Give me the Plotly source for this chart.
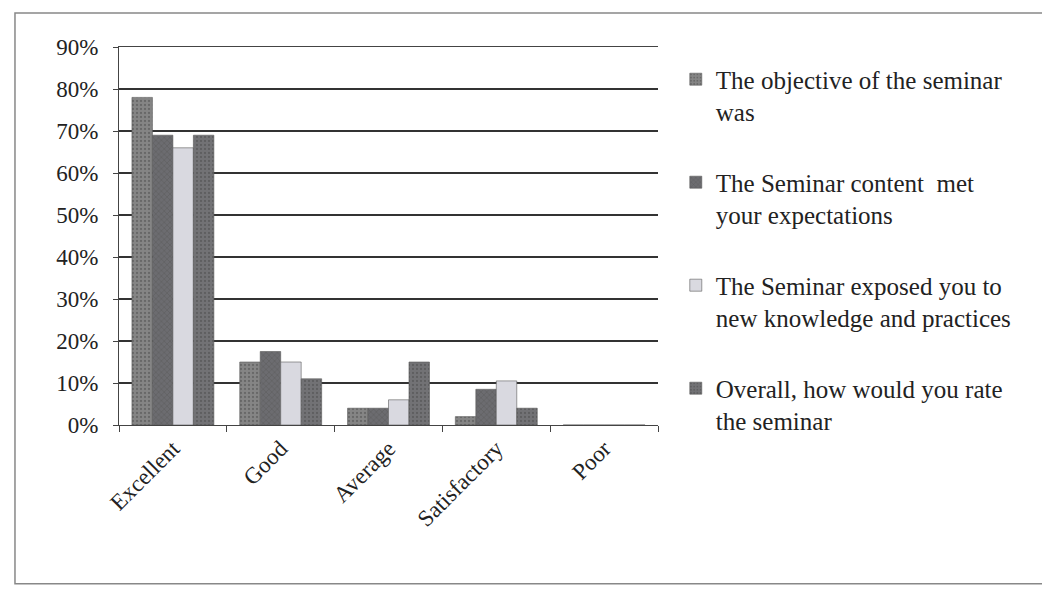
import plotly.graph_objects as go

categories = ["Excellent", "Good", "Average", "Satisfactory", "Poor"]
series_names = [
    "The objective of the seminar<br>was",
    "The Seminar content  met<br>your expectations",
    "The Seminar exposed you to<br>new knowledge and practices",
    "Overall, how would you rate<br>the seminar",
]
objective = [78, 15, 4, 2, 0]
content = [69, 17.5, 4, 8.5, 0]
exposed = [66, 15, 6, 10.5, 0]
overall = [69, 11, 15, 4, 0]
y_ticks = [0, 10, 20, 30, 40, 50, 60, 70, 80, 90]

values = [objective, content, exposed, overall]
colors = ["#858585", "#6c6c70", "#d9d9e0", "#727275"]
patterns = [".", "x", "", "."]

fig = go.Figure()
for i, (name, vals) in enumerate(zip(series_names, values)):
    fig.add_trace(go.Bar(
        x=categories, y=vals, name=name,
        legendgroup=str(i),
        marker=dict(color=colors[i], line=dict(color="#5a5a5a", width=0.6),
                    pattern=dict(shape=patterns[i], size=4, solidity=0.25,
                                 fgcolor="#4a4a4a")),
    ))

font_family = "Liberation Serif, Times New Roman, serif"
fig.update_layout(
    width=1050, height=589,
    margin=dict(l=111, r=400, t=39, b=172, autoexpand=False),
    paper_bgcolor="white", plot_bgcolor="white",
    barmode="group", bargap=0.24, bargroupgap=0,
    font=dict(family=font_family, size=22, color="#222"),
    legend=dict(x=1.033, y=0.975, xanchor="left", yanchor="top",
                tracegroupgap=35, font=dict(size=25, color="#222"),
                itemwidth=30, valign="top", maxheight=1000),
    showlegend=True,
)
fig.update_xaxes(
    showline=True, linecolor="#444", linewidth=1, mirror=True,
    ticks="outside", tickson="boundaries", ticklen=6, tickcolor="#444",
    tickangle=-45, tickfont=dict(size=23), showgrid=False, automargin=False,
)
fig.update_yaxes(
    range=[0, 90], tickvals=y_ticks, ticktext=[f"{v}%" for v in y_ticks],
    showline=True, linecolor="#444", linewidth=1,
    ticks="outside", ticklen=5, tickcolor="#444", ticklabelstandoff=10,
    showgrid=True, gridcolor="#333", gridwidth=1.5,
    tickfont=dict(size=23), zeroline=False, automargin=False,
)
fig.add_shape(type="rect", xref="paper", yref="paper",
              x0=-0.193, x1=1.724, y0=-0.42, y1=1.09,
              line=dict(color="#888", width=1.5))
fig.write_html("out.html")
